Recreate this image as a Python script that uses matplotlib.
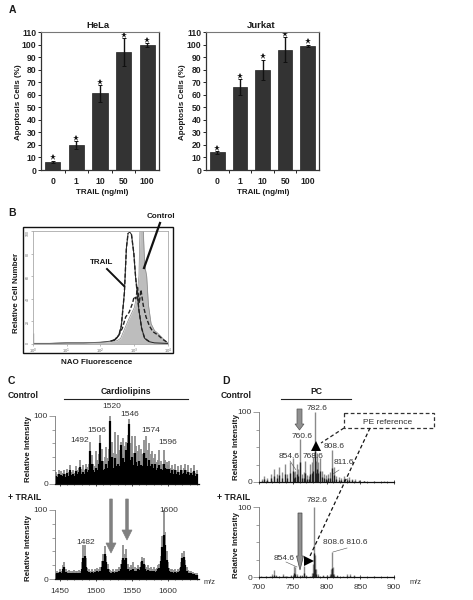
import numpy as np
import matplotlib
matplotlib.use("Agg")
import matplotlib.pyplot as plt
from matplotlib.patches import Polygon, Rectangle

plt.rcParams['font.family'] = ['Liberation Sans', 'DejaVu Sans']

W = 473
H = 600

doses = ['0', '1', '10', '50', '100']
hela = [6.5, 20, 61, 94, 99.5]
hela_err = [1, 3, 7, 11, 1.5]
jurkat = [14, 66, 80, 96, 99]
jurkat_err = [1, 6.5, 8, 10, 1]

# panel B, log10 fluorescence against cell count
ctrl_x = [0, 0.5, 1, 1.5, 2, 2.3, 2.5, 2.6, 2.74, 2.84, 3.0, 3.09, 3.14, 3.17, 3.22, 3.27, 3.31, 3.37, 3.42, 3.5, 3.6, 3.68, 3.78, 3.88, 4.0]
ctrl_y = [0.5, 0.5, 1, 1, 1.5, 2, 3, 5, 15, 22, 32, 44, 60, 100, 100, 100, 70, 60, 35, 18, 12, 10, 7, 4, 1]
trail_x = [0, 0.5, 1, 1.5, 2, 2.3, 2.45, 2.55, 2.62, 2.71, 2.77, 2.82, 2.87, 2.92, 2.99, 3.04, 3.14, 3.22, 3.31, 3.45, 3.6, 4.0]
trail_y = [0.5, 0.5, 1, 1, 1.5, 2.5, 4, 8, 16, 45, 85, 98, 99, 97, 80, 60, 30, 14, 5, 2, 1, 0.5]
dash_x = [2.4, 2.55, 2.65, 2.75, 2.85, 2.95, 3.0, 3.05, 3.1, 3.15, 3.2, 3.27, 3.35, 3.45, 3.55, 3.7, 3.85, 4.0]
dash_y = [3, 8, 14, 24, 28, 36, 42, 40, 50, 36, 48, 34, 24, 16, 11, 8, 4, 1]

# panel C, Control
cl_ctrl_gray = [18, 14, 20, 15, 19, 16, 21, 15, 22, 17, 28, 18, 20, 16, 26, 20, 24, 36, 22, 28,
                21, 30, 25, 30, 62, 42, 30, 26, 48, 36, 44, 72, 52, 34, 40, 54, 38, 52, 100, 62,
                46, 76, 44, 72, 50, 62, 44, 68, 56, 62, 72, 95, 60, 70, 46, 70, 56, 48, 58, 52,
                44, 64, 46, 70, 50, 60, 44, 48, 38, 44, 32, 36, 50, 34, 30, 50, 36, 32, 28, 34,
                24, 28, 22, 30, 20, 26, 18, 28, 20, 24, 30, 20, 28, 18, 24, 18, 28, 16, 20]
cl_ctrl_black = [12, 10, 14, 11, 13, 12, 15, 11, 16, 12, 20, 13, 15, 12, 19, 14, 17, 25, 15, 18,
                 14, 22, 17, 20, 48, 30, 20, 17, 24, 20, 30, 60, 34, 20, 22, 30, 24, 34, 92, 40,
                 24, 38, 26, 30, 26, 58, 28, 38, 32, 50, 60, 88, 36, 40, 28, 46, 32, 26, 34, 28,
                 26, 46, 28, 38, 26, 36, 26, 30, 24, 30, 20, 24, 28, 22, 20, 30, 24, 22, 18, 22,
                 16, 20, 15, 20, 14, 18, 13, 20, 14, 16, 20, 14, 18, 13, 16, 13, 19, 12, 14]

# panel C, + TRAIL
cl_trail_gray = [9, 12, 10, 14, 11, 20, 24, 14, 12, 13, 11, 12, 10, 13, 11, 12, 13, 11, 24, 50,
                 50, 30, 16, 14, 12, 14, 12, 15, 13, 16, 14, 18, 26, 36, 48, 34, 22, 14, 13, 12,
                 14, 12, 15, 14, 18, 22, 28, 50, 36, 44, 22, 18, 20, 17, 24, 18, 16, 20, 18, 24,
                 32, 30, 20, 18, 20, 16, 18, 15, 17, 14, 16, 20, 22, 34, 62, 100, 68, 40, 24, 16,
                 15, 14, 13, 14, 12, 14, 16, 24, 38, 40, 28, 18, 13, 11, 12, 10, 9, 9, 8]
cl_trail_black = [7, 9, 8, 10, 8, 14, 17, 10, 9, 9, 8, 9, 7, 9, 8, 9, 9, 8, 14, 30,
                  34, 18, 11, 10, 9, 10, 9, 10, 9, 11, 10, 12, 18, 26, 36, 24, 14, 10, 9, 9,
                  10, 9, 10, 10, 12, 15, 22, 30, 27, 30, 14, 12, 13, 12, 15, 12, 11, 14, 13, 18,
                  26, 22, 14, 12, 13, 11, 12, 11, 12, 10, 11, 14, 16, 26, 46, 64, 50, 28, 16, 11,
                  10, 10, 9, 10, 9, 10, 11, 18, 30, 32, 20, 12, 9, 8, 8, 7, 7, 6, 6]

# panel D peaks
pc_ctrl_mz = [704, 708, 712, 718, 722, 726, 730, 734, 738, 742, 746, 750, 752, 754, 756, 758, 760.6, 763, 766, 768.6, 771, 774, 776, 778, 780, 782.6, 784, 786, 788, 790, 793, 796, 799, 802, 805, 808.6, 811.6, 814, 818, 822, 826, 830, 834, 838, 842, 848, 856, 870, 885]
pc_ctrl_val = [4, 8, 6, 12, 18, 12, 22, 14, 26, 12, 28, 34, 14, 16, 26, 18, 62, 12, 14, 30, 10, 8, 26, 28, 36, 100, 30, 42, 28, 34, 16, 12, 10, 12, 14, 46, 22, 8, 7, 6, 8, 6, 7, 5, 4, 3, 2, 1, 1]
pc_trail_mz = [703, 710, 716, 720, 722, 725, 730, 735, 738, 742, 748, 752, 754, 757, 761, 764, 767, 770, 775, 778, 780, 782, 783, 785, 788, 795, 800, 805, 807, 808, 809, 811, 815, 825, 830, 835, 840, 850, 870]
pc_trail_val = [1, 2, 2, 4, 10, 3, 2, 4, 2, 2, 3, 16, 14, 5, 3, 3, 16, 3, 2, 6, 18, 100, 32, 12, 4, 3, 3, 4, 12, 36, 14, 4, 3, 2, 4, 5, 3, 1, 1]


def make_ax(left, top, right, bottom):
	return fig.add_axes([left / W, 1 - bottom / H, (right - left) / W, (bottom - top) / H])


def bar_panel(left, right, vals, errs):
	ax = make_ax(left, 32, right, 170)
	x = np.arange(len(vals))
	ax.bar(x, vals, width=0.65, color='#333333', edgecolor='#222222', linewidth=0.5)
	ax.errorbar(x, vals, yerr=errs, fmt='none', ecolor='#111111', elinewidth=1, capsize=1.2, capthick=0.7)
	tops = [v + e + 2.5 for v, e in zip(vals, errs)]
	ax.plot(x, tops, ls='none', marker='*', ms=4.5, color='#111111', mew=0)
	ax.set_xlim(-0.5, len(vals) - 0.5)
	ax.set_ylim(0, 110)
	ax.set_yticks(range(0, 111, 10))
	ax.set_xticks(x)
	ax.set_xticklabels(doses, fontsize=6.2, fontweight='bold', color='#222222')
	ax.set_xticks(x[:-1] + 0.5, minor=True)
	ax.tick_params(axis='x', which='major', length=0, pad=5)
	ax.tick_params(axis='x', which='minor', length=2, width=0.6)
	ax.tick_params(axis='y', length=2, width=0.6, pad=1.5, labelsize=6.2)
	for t in ax.get_yticklabels():
		t.set_fontweight('bold')
		t.set_color('#222222')
	for s in ['left', 'bottom', 'right']:
		ax.spines[s].set_linewidth(0.9)
		ax.spines[s].set_color('#333333')
	ax.spines['top'].set_linewidth(0.8)
	ax.spines['top'].set_color('#777777')
	return ax


def spectrum_axes(left, right, top, bottom, xlim, major, ystep, labels, pad):
	ax = make_ax(left, top, right, bottom)
	ax.set_xlim(*xlim)
	ax.set_ylim(0, 100)
	ax.set_yticks([0, 100])
	ax.set_yticks(range(0, 101, ystep), minor=True)
	ax.set_yticklabels(['0', '100'], fontsize=6, color='#333333')
	ax.tick_params(axis='y', which='major', length=4, width=0.5, color='#777777', pad=1)
	ax.tick_params(axis='y', which='minor', length=2, width=0.5, color='#777777')
	ax.set_xticks(major)
	ax.set_xticks(np.arange(xlim[0] - xlim[0] % 10 + 10, xlim[1], 10), minor=True)
	if labels:
		ax.set_xticklabels([str(m) for m in major], fontsize=6, color='#333333')
	else:
		ax.set_xticklabels([])
	ax.tick_params(axis='x', which='major', length=2.5, width=0.5, pad=pad, direction='inout')
	ax.tick_params(axis='x', which='minor', length=1.5, width=0.4, direction='inout')
	for s in ['top', 'right']:
		ax.spines[s].set_visible(False)
	ax.spines['left'].set_linewidth(0.6)
	ax.spines['left'].set_color('#777777')
	ax.spines['bottom'].set_linewidth(0.9)
	ax.spines['bottom'].set_color('#111111')
	return ax


def dense(ax, gray, black):
	mz = np.linspace(1444, 1640, len(gray))
	ax.vlines(mz, 0, gray, color='#8c8c8c', lw=1.3)
	ax.vlines(mz, 0, black, color='#000000', lw=1.6)


fig = plt.figure(figsize=(W / 100, H / 100), dpi=100)

# A
bar_panel(41, 159, hela, hela_err)
bar_panel(206, 319, jurkat, jurkat_err)

# B
axb = make_ax(32.7, 231, 168, 344)
axb.fill_between(ctrl_x, 0, ctrl_y, color='#bdbdbd', lw=0)
axb.plot(trail_x, trail_y, color='#222222', lw=0.7)
axb.plot(ctrl_x, ctrl_y, color='#888888', lw=0.5)
axb.plot(dash_x, dash_y, color='#222222', lw=1, ls=(0, (3, 1.5)))
axb.plot(trail_x[5:12], trail_y[5:12], color='#222222', lw=1, ls=(0, (3, 1.5)))
axb.plot(trail_x[13:20], trail_y[13:20], color='#222222', lw=1, ls=(0, (3, 1.5)))
axb.vlines([0.0], 0, [10], color='#999999', lw=1)
axb.set_xlim(0, 4)
axb.set_ylim(0, 100)
axb.set_xticks([0, 1, 2, 3, 4])
axb.set_xticklabels(['10$^0$', '10$^1$', '10$^2$', '10$^3$', '10$^4$'], fontsize=3, color='#666666')
axb.set_yticks([0, 20, 40, 60, 80, 100])
axb.set_yticklabels(['0', '20', '40', '60', '80', '100'], fontsize=2.5, color='#666666', rotation=90)
axb.tick_params(length=1.5, width=0.4, pad=0.5, color='#888888')
for s in axb.spines.values():
	s.set_linewidth(0.6)
	s.set_color('#aaaaaa')

# C
xlim_c = (1443, 1643)
axc1 = spectrum_axes(55, 199, 416, 484, xlim_c, [1450, 1500, 1550, 1600], 20, False, 5)
dense(axc1, cl_ctrl_gray, cl_ctrl_black)
axc2 = spectrum_axes(55, 199, 510, 579, xlim_c, [1450, 1500, 1550, 1600], 20, True, 5)
dense(axc2, cl_trail_gray, cl_trail_black)

# D
xlim_d = (700, 900)
axd1 = spectrum_axes(259, 394, 412, 482, xlim_d, [700, 750, 800, 850, 900], 25, False, 4)
axd1.vlines(pc_ctrl_mz, 0, pc_ctrl_val, color='#8a8a8a', lw=1.0)
axd1.vlines(pc_ctrl_mz, 0, [v * 0.45 for v in pc_ctrl_val], color='#222222', lw=1.0)
axd2 = spectrum_axes(259, 394, 507, 577, xlim_d, [700, 750, 800, 850, 900], 25, True, 4)
axd2.vlines(pc_trail_mz, 0, pc_trail_val, color='#8a8a8a', lw=1.0)
axd2.vlines(pc_trail_mz, 0, [v * 0.35 for v in pc_trail_val], color='#222222', lw=1.0)

# overlay in pixel coordinates for labels, arrows and leaders
ov = fig.add_axes([0, 0, 1, 1], zorder=10)
ov.set_xlim(0, W)
ov.set_ylim(H, 0)
ov.axis('off')
ov.patch.set_alpha(0)


def bold(x, y, s, size=6, **kw):
	kw.setdefault('color', '#1a1a1a')
	ov.text(x, y, s, fontsize=size, fontweight='bold', ha='center', va='center', **kw)


def plain(x, y, s, size=5.8):
	ov.text(x, y, s, fontsize=size, ha='center', va='center', color='#333333')


def line(xs, ys, **kw):
	kw.setdefault('color', '#222222')
	kw.setdefault('lw', 0.6)
	ov.plot(xs, ys, **kw)


def down_arrow(x, top, neck, tip, shaft, head, face, edge):
	pts = [(x - shaft / 2, top), (x + shaft / 2, top), (x + shaft / 2, neck), (x + head / 2, neck),
		   (x, tip), (x - head / 2, neck), (x - shaft / 2, neck)]
	ov.add_patch(Polygon(pts, closed=True, facecolor=face, edgecolor=edge, lw=0.5))


for x, y, s in [(12, 10, 'A'), (12, 213, 'B'), (11, 381, 'C'), (226, 381, 'D')]:
	bold(x, y, s, size=7.5)

bold(98, 25, 'HeLa', size=6.8)
bold(261, 25, 'Jurkat', size=6.8)
bold(102, 193, 'TRAIL (ng/ml)', size=5.8)
bold(263, 193, 'TRAIL (ng/ml)', size=5.8)
for x in [18, 182]:
	bold(x, 102, 'Apoptosis Cells (%)', size=5.8, rotation=90)

bold(161, 217, 'Control', size=5.8)
bold(102, 263, 'TRAIL', size=5.8)
bold(97, 363, 'NAO Fluorescence', size=5.8)
bold(16, 293, 'Relative Cell Number', size=5.8, rotation=90)
ov.add_patch(Rectangle((23, 227), 150, 126, fill=False, edgecolor='#111111', lw=1))
line([107, 124], [269, 286], lw=1.4, color='#111111')
line([160, 144], [223, 268], lw=1.6, color='#111111')

bold(23, 395, 'Control', size=6.2)
bold(236, 395, 'Control', size=6.2)
bold(126, 392, 'Cardiolipins', size=6.2)
bold(316, 392, 'PC', size=6.2)
line([64, 188], [399, 399], lw=0.8)
line([281, 351], [399, 399], lw=0.8)
bold(25, 498, '+ TRAIL', size=6.2)
bold(234, 498, '+ TRAIL', size=6.2)
bold(28, 449, 'Relative Intensity', size=5.8, rotation=90)
bold(28, 548, 'Relative Intensity', size=5.8, rotation=90)
bold(236, 447, 'Relative Intensity', size=5.8, rotation=90)
bold(236, 545, 'Relative Intensity', size=5.8, rotation=90)

for x, y, s in [(112, 406, '1520'), (130, 414, '1546'), (97, 430, '1506'), (151, 431, '1574'),
				(168, 442, '1596'), (80, 441, '1492'), (85.5, 543, '1482'), (169, 510, '1600'),
				(317, 408, '782.6'), (302, 436, '760.6'), (334, 447, '808.6'), (289, 456, '854.6'),
				(313, 456, '768.6'), (344, 463, '811.6'), (317, 501, '782.6'), (345, 542, '808.6 810.6'),
				(284, 558, '854.6')]:
	plain(x, y, s, size=6)
plain(210, 582, 'm/z', size=5.4)
plain(416, 582, 'm/z', size=5.4)

# leaders to the small peaks
line([290, 296], [461, 470], lw=0.4, color='#555555')
line([339, 333], [470, 474], lw=0.4, color='#555555')
line([286, 297], [562, 567], lw=0.4, color='#555555')
line([347, 333], [548, 552], lw=0.4, color='#555555')

# arrows
down_arrow(111, 499, 543, 553, 2.6, 10, '#808080', '#808080')
down_arrow(127, 499, 530, 540, 2.6, 10, '#808080', '#808080')
down_arrow(299.5, 409, 424, 430, 5, 9, '#909090', '#555555')
down_arrow(300, 513, 556, 570, 4, 7, '#909090', '#444444')

# PE reference box
ov.add_patch(Rectangle((344, 413), 90, 15, fill=False, edgecolor='#333333', lw=0.9, ls=(0, (3, 2))))
plain(388, 422, 'PE reference', size=6)
line([344, 321], [428, 443], lw=0.9, ls=(0, (3, 2)))
line([370, 310], [428, 556], lw=0.9, ls=(0, (3, 2)), color='#111111')
ov.plot([316], [446], marker='^', ms=6.5, color='#000000', mew=0)
ov.plot([309], [561], marker='>', ms=6.5, color='#000000', mew=0)

fig.savefig('out.png', dpi=100)
